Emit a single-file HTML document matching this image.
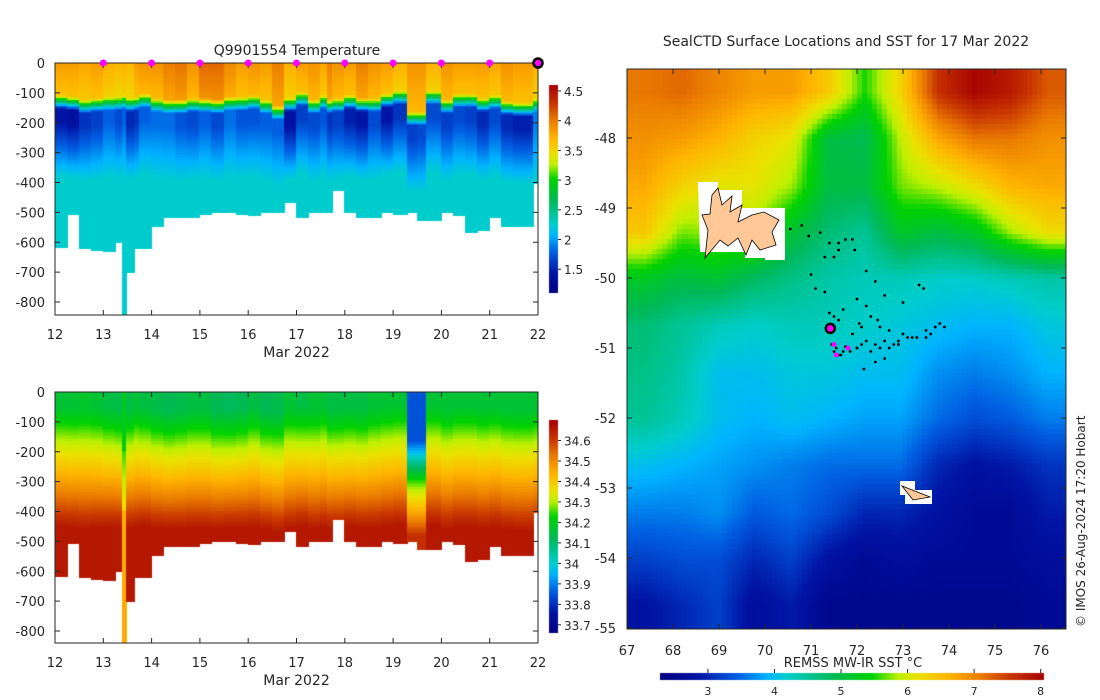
<!DOCTYPE html>
<html><head><meta charset="utf-8">
<style>
html,body{margin:0;padding:0;background:#fff;}
#wrap{position:relative;width:1100px;height:700px;overflow:hidden;font-family:"Liberation Sans","DejaVu Sans",sans-serif;}
canvas,svg{position:absolute;left:0;top:0;}
svg text{font-family:"DejaVu Sans","Liberation Sans",sans-serif;fill:#262626;}
</style></head>
<body>
<div id="wrap">
<canvas id="cv" width="1100" height="700"></canvas>
<svg id="sv" width="1100" height="700"></svg>
</div>
<script>
// ---------- data ----------
const colDays = [12.0,12.25,12.5,12.75,13.0,13.25,13.4,13.47,13.65,13.75,14.0,14.25,14.5,14.75,15.0,15.25,15.5,15.75,16.0,16.25,16.5,16.75,17.0,17.25,17.5,17.65,17.75,18.0,18.25,18.5,18.75,19.0,19.3,19.5,19.7,20.0,20.25,20.5,20.75,21.0,21.25,21.5,21.9];
const colBottom = [615,505,620,625,630,600,840,700,620,620,545,515,515,515,505,500,500,505,510,500,500,465,515,500,500,500,425,500,515,515,500,505,500,525,525,500,510,565,560,515,545,545,400];
const colMld = [110,115,125,120,115,115,110,120,115,105,120,125,125,120,120,125,115,115,110,125,145,120,100,125,110,125,120,110,120,120,105,95,165,165,95,125,105,105,120,110,130,135,120];
const colTs = [3.85,3.85,3.8,3.85,3.75,3.7,3.75,3.7,3.85,3.9,3.9,4.0,4.05,3.9,4.1,4.1,3.95,3.85,3.9,3.85,4.0,3.75,3.85,3.9,3.8,4.0,3.9,3.85,4.0,3.9,3.85,3.75,3.9,3.9,3.75,3.9,3.85,3.85,3.85,3.8,3.9,3.85,3.75];
const colTmin = [1.45,1.4,1.6,1.65,1.8,1.7,1.8,1.55,1.6,1.8,1.85,1.85,1.75,1.7,1.8,1.7,1.85,1.75,1.75,1.8,1.8,1.4,1.65,1.7,1.75,1.6,1.65,1.5,1.45,1.7,1.45,1.6,1.65,1.7,1.7,1.65,1.7,1.65,1.55,1.7,1.55,1.5,1.9];
const colSs = [34.17,34.17,34.18,34.17,34.15,34.14,34.15,34.15,34.17,34.15,34.14,34.13,34.14,34.15,34.15,34.13,34.12,34.13,34.15,34.13,34.14,34.17,34.15,34.17,34.17,34.15,34.15,34.15,34.15,34.17,34.17,34.17,33.85,33.85,34.17,34.17,34.17,34.17,34.17,34.17,34.17,34.17,34.17];
const markerDays = [13,14,15,16,17,18,19,20,21];
const tempTicks = [1.5,2,2.5,3,3.5,4,4.5];
const salTicks = [33.7,33.8,33.9,34,34.1,34.2,34.3,34.4,34.5,34.6];
const sstGrid = [
 [7.1,7.2,7.0,6.8,6.8,6.4,5.5,6.3,7.6,8.0,7.8,7.3],
 [6.9,6.8,6.6,6.3,6.1,5.0,4.9,5.9,6.7,7.1,7.1,6.9],
 [6.7,6.3,6.1,6.1,5.8,5.0,5.0,5.7,5.9,6.2,6.6,6.7],
 [6.4,5.7,5.8,5.8,5.1,4.7,4.5,5.2,5.0,5.2,5.8,6.2],
 [5.2,5.0,5.1,4.8,4.6,4.4,4.3,4.3,4.2,4.2,4.3,4.4],
 [4.7,4.5,4.3,4.2,4.3,4.3,4.2,4.1,4.0,3.9,3.9,4.1],
 [4.6,4.4,4.0,4.0,4.1,4.1,4.0,4.0,3.7,3.6,3.7,3.9],
 [4.5,4.3,4.0,3.9,4.0,3.9,3.8,3.8,3.5,3.3,3.4,3.6],
 [4.0,3.9,3.8,3.7,3.6,3.5,3.5,3.5,3.0,2.8,2.9,3.1],
 [3.6,3.6,3.7,3.4,3.5,3.3,3.0,3.0,2.8,2.6,2.6,2.9],
 [3.2,3.3,3.3,3.0,3.2,2.8,2.6,2.7,2.6,2.6,2.6,2.7],
 [2.8,3.0,3.2,2.7,2.9,2.5,2.5,2.5,2.5,2.5,2.5,2.6]];
const trackLon = [70.55,70.8,71.2,71.4,71.6,71.75,71.9,71.95,71.3,71.5,71.6,72.2,72.4,72.6,72.0,72.2,71.4,71.5,71.6,72.3,72.5,72.7,73.0,73.3,73.5,73.7,73.9,72.8,72.9,73.1,72.6,72.4,72.2,72.0,71.8,71.7,71.6,71.5,71.45,71.55,71.65,71.75,71.85,72.0,72.1,72.3,72.5,72.7,72.9,73.2,73.5,73.6,73.8,72.4,72.6,72.1,71.9,72.15,72.45,73.0,71.3,71.1,71.0,71.7,72.05,73.35,73.45,70.95];
const trackLat = [-49.3,-49.25,-49.35,-49.5,-49.5,-49.45,-49.45,-49.6,-49.7,-49.7,-49.6,-49.9,-50.05,-50.25,-50.3,-50.4,-50.5,-50.55,-50.6,-50.55,-50.7,-50.75,-50.8,-50.85,-50.75,-50.7,-50.7,-50.95,-50.9,-50.85,-50.9,-50.95,-50.9,-51.0,-51.0,-51.05,-51.1,-51.05,-50.95,-51.0,-51.1,-50.98,-51.05,-51.0,-50.95,-51.05,-51.0,-51.0,-50.95,-50.85,-50.85,-50.8,-50.65,-51.2,-51.15,-50.7,-50.8,-51.3,-50.6,-50.35,-50.2,-50.15,-49.95,-50.45,-50.65,-50.1,-50.15,-49.4];
const magLon = [71.45,71.5,71.8,71.55];
const magLat = [-50.75,-50.95,-51.0,-51.1];
const sstTicks = [3,4,5,6,7,8];
const lonTicks = [67,68,69,70,71,72,73,74,75,76];
const latTicks = [-48,-49,-50,-51,-52,-53,-54,-55];
const depthTicks = [0,-100,-200,-300,-400,-500,-600,-700,-800];
const dayTicks = [12,13,14,15,16,17,18,19,20,21,22];

// ---------- helpers ----------
const CMAP=[[0,[0,0,128]],[0.1,[0,20,165]],[0.2,[0,95,225]],[0.28,[0,180,255]],[0.33,[0,205,205]],[0.45,[0,185,85]],[0.55,[0,210,0]],[0.62,[190,240,0]],[0.67,[235,225,0]],[0.75,[255,180,0]],[0.83,[235,125,0]],[0.91,[200,55,0]],[1,[165,0,0]]];
function jet(t){t=Math.max(0,Math.min(1,t));
 for(let i=1;i<CMAP.length;i++){if(t<=CMAP[i][0]){const a=CMAP[i-1],b=CMAP[i];const f=(t-a[0])/(b[0]-a[0]);
  return [0,1,2].map(k=>Math.round(a[1][k]+(b[1][k]-a[1][k])*f));}}
 return CMAP[CMAP.length-1][1];}
function rgb(c){return 'rgb('+c[0]+','+c[1]+','+c[2]+')';}
const cv=document.getElementById('cv'),ctx=cv.getContext('2d');
const sv=document.getElementById('sv');const NS='http://www.w3.org/2000/svg';
function el(tag,attrs,parent){const e=document.createElementNS(NS,tag);for(const k in attrs)e.setAttribute(k,attrs[k]);(parent||sv).appendChild(e);return e;}
function txt(x,y,s,size,anchor,name){const t=el('text',{x:x,y:y,'font-size':size,'text-anchor':anchor||'middle'});t.textContent=s;
 
 
 return t;}

// ---------- section panels ----------
function panel(p){
 const X=d=>p.x0+(d-12)*(p.x1-p.x0)/10;
 const Y=z=>p.y0+z*(p.y800-p.y0)/800;
 for(let i=0;i<colDays.length;i++){
  const xa=X(colDays[i]),xb=i<colDays.length-1?X(colDays[i+1]):X(22);
  const bot=colBottom[i];
  for(let z=0;z<bot;z+=5){
   const v=p.prof(i,z+2.5);const c=jet((v-p.vmin)/(p.vmax-p.vmin));
   ctx.fillStyle=rgb(c);ctx.fillRect(Math.floor(xa),Math.floor(Y(z)),Math.ceil(xb)-Math.floor(xa),Math.ceil(Y(z+5)-Y(z))+1);
  }
 }
 ctx.fillStyle='#fff';ctx.fillRect(p.x0,p.y1,p.x1-p.x0+2,20);
 for(let y=p.cb0;y<p.cb1;y++){const v=p.vmax-(y-p.cb0)/(p.cb1-p.cb0)*(p.vmax-p.vmin);ctx.fillStyle=rgb(jet((v-p.vmin)/(p.vmax-p.vmin)));ctx.fillRect(549,y,9,1);}
 const g=el('g',{});
 
 
 el('rect',{x:p.x0,y:p.y0,width:p.x1-p.x0,height:p.y1-p.y0,fill:'none',stroke:'#262626','stroke-width':1},g);
 depthTicks.forEach(d=>{const y=Y(-d);el('line',{x1:p.x0,x2:p.x0+5,y1:y,y2:y,stroke:'#262626'},g);el('line',{x1:p.x1,x2:p.x1-5,y1:y,y2:y,stroke:'#262626'},g);
  txt(p.x0-10,y+5,String(d),13,'end',p.name+'-y-tick');});
 dayTicks.forEach(d=>{const x=X(d);el('line',{x1:x,x2:x,y1:p.y1,y2:p.y1-5,stroke:'#262626'},g);el('line',{x1:x,x2:x,y1:p.y0,y2:p.y0+5,stroke:'#262626'},g);
  txt(x,p.y1+24,String(d),13,'middle',p.name+'-x-tick');});
 txt((p.x0+p.x1)/2,p.y1+42,'Mar 2022',14,'middle',p.name+'-x-axis-title');
 p.ticks.forEach(v=>{const y=p.cb1-(v-p.vmin)/(p.vmax-p.vmin)*(p.cb1-p.cb0);el('line',{x1:558,x2:561,y1:y,y2:y,stroke:'#262626'},g);
  txt(564,y+5,String(v),12,'start',p.name+'-colorbar-tick');});
 return {X,Y};
}
const tp=panel({name:'temperature',x0:55,x1:538,y0:63,y1:315,y800:302,vmin:1.1,vmax:4.6,cb0:85,cb1:293,ticks:tempTicks,
 prof:(i,z)=>{const m=colMld[i],ts=colTs[i],tm=colTmin[i];
  if(z<m) return ts-(z/m)*0.2;
  if(z<m+45) return ts-0.2-(ts-0.2-tm)*(z-m)/45;
  if(z<m+90) return tm;
  return Math.min(2.25,tm+(z-m-90)*(2.25-tm)/180);}});
const sp=panel({name:'salinity',x0:55,x1:538,y0:392,y1:643,y800:631,vmin:33.66,vmax:34.7,cb0:420,cb1:633,ticks:salTicks,
 prof:(i,z)=>{const m=colMld[i],s0=colSs[i];
  if(i===6) return z<200?34.2:(z<400?34.25+(z-200)*0.0006:34.45);
  if(i===32||i===33){ if(z<m) return s0; if(z<300) return s0+(z-m)*(34.25-s0)/(300-m); return Math.min(34.62,34.25+(z-300)*0.002);}
  if(z<m*0.5) return s0;
  return Math.min(34.66,s0+(z-m*0.5)*(34.66-s0)/400);}});
txt(297,55,'Q9901554  Temperature',14,'middle','temperature-title');
markerDays.forEach(d=>{const c=el('circle',{cx:tp.X(d),cy:63,r:3.5,fill:'#ff00ff'});
 
 });
const cm=el('circle',{cx:tp.X(22),cy:63,r:4.5,fill:'#ff00ff',stroke:'#000','stroke-width':2.5});



// ---------- map ----------
const MX0=627,MX1=1066,MY0=69,MY1=629;
const LX=lon=>627+(lon-67)*46, LY=lat=>138+(-48-lat)*70;
const VMIN=2.28,VMAX=8.05;
const R=sstGrid.length,C=sstGrid[0].length;
function sstAt(fx,fy){
 let gx=Math.max(0,Math.min(C-1,fx-0.5)),gy=Math.max(0,Math.min(R-1,fy-0.5));
 const x0=Math.floor(gx),y0=Math.floor(gy),x1=Math.min(C-1,x0+1),y1=Math.min(R-1,y0+1),ax=gx-x0,ay=gy-y0;
 return sstGrid[y0][x0]*(1-ax)*(1-ay)+sstGrid[y0][x1]*ax*(1-ay)+sstGrid[y1][x0]*(1-ax)*ay+sstGrid[y1][x1]*ax*ay;}
const BS=5;
for(let y=MY0;y<MY1;y+=BS)for(let x=MX0;x<MX1;x+=BS){
 const v=sstAt((x+BS/2-MX0)/(MX1-MX0)*C,(y+BS/2-MY0)/(MY1-MY0)*R);
 ctx.fillStyle=rgb(jet((v-VMIN)/(VMAX-VMIN)));ctx.fillRect(x,y,Math.min(BS,MX1-x),Math.min(BS,MY1-y));}
for(let x=660;x<1044;x++){const v=VMIN+(x-660)/(1044-660)*(VMAX-VMIN);ctx.fillStyle=rgb(jet((v-VMIN)/(VMAX-VMIN)));ctx.fillRect(x,673,1,7);}
const mg=el('g',{});


const kerg=el('path',{d:'M698,182 L718,182 L718,190 L742,190 L742,208 L785,208 L785,260 L765,260 L765,258 L745,258 L745,252 L700,252 Z',fill:'#fff'},mg);


const kp=el('path',{d:'M712,195 L718,188 L722,205 L732,196 L730,212 L742,205 L738,222 L752,215 L764,212 L779,220 L772,232 L776,245 L760,250 L752,240 L746,255 L738,238 L728,246 L720,240 L705,258 L708,230 L702,215 L710,214 Z',fill:'#ffc896',stroke:'#000','stroke-width':0.8},mg);


el('path',{d:'M900,481 L915,481 L915,490 L932,490 L932,504 L905,504 L905,495 L900,495 Z',fill:'#fff'},mg);
const hp=el('path',{d:'M902,486 L930,497 L913,500 Z',fill:'#ffc896',stroke:'#000','stroke-width':0.8},mg);


for(let i=0;i<trackLon.length;i++){const c=el('circle',{cx:LX(trackLon[i]),cy:LY(trackLat[i]),r:1.4,fill:'#000'},mg);
 
 }
for(let i=0;i<magLon.length;i++){const c=el('circle',{cx:LX(magLon[i]),cy:LY(magLat[i]),r:2.5,fill:'#ff00ff'},mg);
 
 }
const cur=el('circle',{cx:LX(71.42),cy:LY(-50.72),r:4.5,fill:'#ff00ff',stroke:'#000','stroke-width':2.5},mg);


el('rect',{x:MX0,y:MY0,width:MX1-MX0,height:MY1-MY0,fill:'none',stroke:'#262626'},mg);
lonTicks.forEach(l=>{const x=LX(l);el('line',{x1:x,x2:x,y1:MY1,y2:MY1-5,stroke:'#262626'},mg);el('line',{x1:x,x2:x,y1:MY0,y2:MY0+5,stroke:'#262626'},mg);
 txt(x,655,String(l),13,'middle','map-lon-tick');});
latTicks.forEach(l=>{const y=LY(l);el('line',{x1:MX0,x2:MX0+5,y1:y,y2:y,stroke:'#262626'},mg);el('line',{x1:MX1,x2:MX1-5,y1:y,y2:y,stroke:'#262626'},mg);
 txt(616,y+5,String(l),13,'end','map-lat-tick');});
sstTicks.forEach(v=>{const x=660+(v-VMIN)/(VMAX-VMIN)*(1044-660);el('line',{x1:x,x2:x,y1:673,y2:669,stroke:'#262626'},mg);
 txt(x,695,String(v),11,'middle','sst-colorbar-tick');});
txt(853,667,'REMSS MW-IR SST °C',13,'middle','sst-colorbar-title');
txt(846,46,'SealCTD Surface Locations and SST for 17 Mar 2022',14,'middle','map-title');
const cr=txt(0,0,'© IMOS 26-Aug-2024 17:20 Hobart',12,'start','copyright-note');
cr.setAttribute('transform','translate(1085,627) rotate(-90)');
</script>
</body></html>
